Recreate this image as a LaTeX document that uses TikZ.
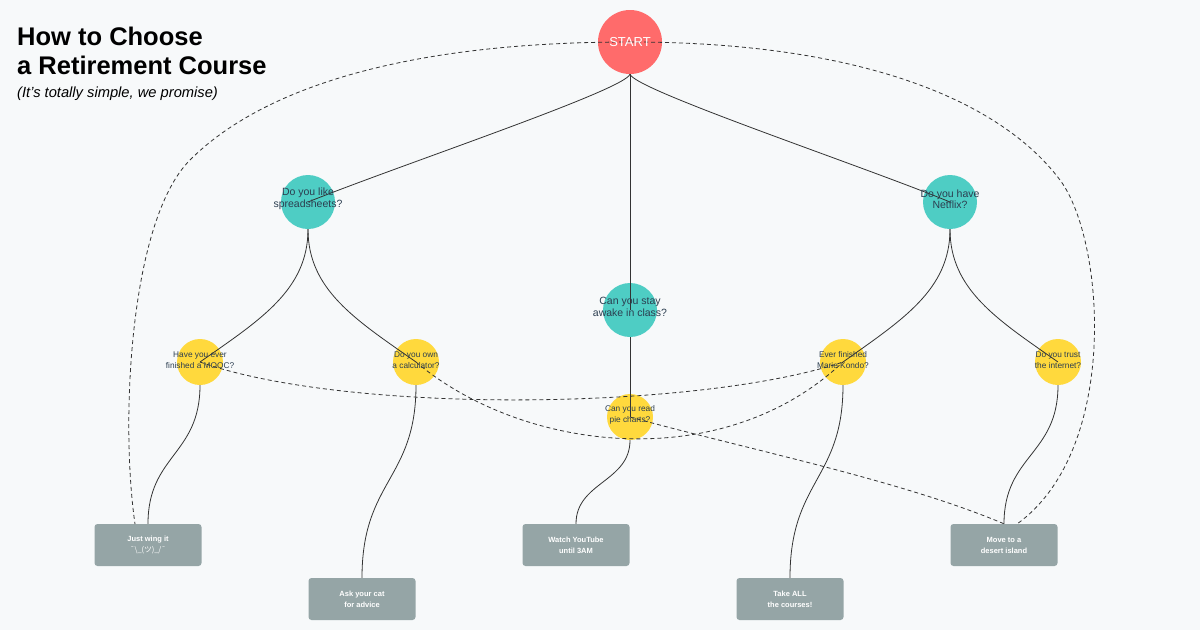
\documentclass[tikz,border=0pt]{standalone}
\usepackage{fontspec}
\setmainfont{Liberation Sans}
\newfontfamily\cjk{Noto Sans CJK JP}
\definecolor{bg}{HTML}{F7F9FA}
\definecolor{startc}{HTML}{FF6B6B}
\definecolor{tealc}{HTML}{4ECDC4}
\definecolor{yellc}{HTML}{FFD93D}
\definecolor{boxc}{HTML}{95A5A6}
\definecolor{txt}{HTML}{2C3E50}
\begin{document}
\begin{tikzpicture}[x=1pt,y=-1pt,
  startnode/.style={circle,fill=startc,minimum size=64pt,inner sep=0pt},
  bignode/.style={circle,fill=tealc,minimum size=54pt,inner sep=0pt},
  smallnode/.style={circle,fill=yellc,minimum size=46pt,inner sep=0pt},
  endbox/.style={rounded corners=3pt,fill=boxc,minimum width=107pt,minimum height=42pt,inner sep=0pt},
  bigtxt/.style={align=center,text=txt,font=\fontsize{10.5}{11.5}\selectfont,inner sep=0pt},
  smalltxt/.style={align=center,text=txt,font=\fontsize{8.3}{10.5}\selectfont,inner sep=0pt},
  boxtxt/.style={align=center,text=white,font=\fontsize{7.5}{11}\bfseries\selectfont,inner sep=0pt},
  link/.style={draw=black!80,line width=0.8pt},
  dlink/.style={draw=black!80,line width=0.8pt,dash pattern=on 4pt off 3pt}]
\fill[bg] (0,0) rectangle (1200,630);
\useasboundingbox (0,0) rectangle (1200,630);
% title
\node[anchor=base west,font=\fontsize{25.5}{28}\bfseries\selectfont,inner sep=0pt] (t1) at (17,45) {How to Choose};
\node[anchor=base west,font=\fontsize{25.5}{28}\bfseries\selectfont,inner sep=0pt] (t2) at (17,74) {a Retirement Course};
\node[anchor=base west,font=\fontsize{14.7}{16}\itshape\selectfont,inner sep=0pt] (t3) at (17,97) {(It's totally simple, we promise)};
% shapes
\node[startnode] (start) at (630,42) {};
\node[bignode] (sheet) at (308,202) {};
\node[bignode] (netf) at (950,202) {};
\node[bignode] (awake) at (630,310) {};
\node[smallnode] (mooc) at (200,362) {};
\node[smallnode] (calc) at (416,362) {};
\node[smallnode] (kondo) at (843,362) {};
\node[smallnode] (trust) at (1058,362) {};
\node[smallnode] (pie) at (630,417) {};
\node[endbox] (wing) at (148,545) {};
\node[endbox] (cat) at (362,599) {};
\node[endbox] (yt) at (576,545) {};
\node[endbox] (all) at (790,599) {};
\node[endbox] (isl) at (1004,545) {};
% solid links
\draw[link] (start.south) .. controls (625,90) and (400,165) .. (sheet.center);
\draw[link] (start.south) .. controls (635,90) and (860,165) .. (netf.center);
\draw[link] (start.south) -- (awake.center);
\draw[link] (awake.south) -- (pie.center);
\draw[link] (sheet.south) .. controls (308,290) and (260,320) .. (mooc.center);
\draw[link] (sheet.south) .. controls (308,290) and (356,320) .. (calc.center);
\draw[link] (netf.south) .. controls (950,290) and (902,320) .. (kondo.center);
\draw[link] (netf.south) .. controls (950,290) and (998,320) .. (trust.center);
\draw[link] (mooc.south) .. controls (200,455) and (148,455) .. (wing.north);
\draw[link] (calc.south) .. controls (416,480) and (362,480) .. (cat.north);
\draw[link] (pie.south) .. controls (630,482) and (576,482) .. (yt.north);
\draw[link] (kondo.south) .. controls (843,480) and (790,480) .. (all.north);
\draw[link] (trust.south) .. controls (1058,455) and (1004,455) .. (isl.north);
% dashed links
\coordinate (wingtop) at (135,524);
\coordinate (isltop) at (1017,524);
\draw[dlink] (start.center) .. controls (400,42) and (260,90) .. (190,160)
  .. controls (130,220) and (120,420) .. (wingtop);
\draw[dlink] (start.center) .. controls (860,42) and (1000,100) .. (1060,180)
  .. controls (1105,240) and (1120,450) .. (isltop);
\draw[dlink] (mooc.center) .. controls (350,415) and (700,410) .. (kondo.center);
\draw[dlink] (calc.center) .. controls (520,450) and (720,478) .. (kondo.center);
\draw[dlink] (pie.center) .. controls (750,450) and (900,480) .. (isl.north);
% texts
\node[font=\fontsize{13}{14}\selectfont,text=white,inner sep=0pt] (startt) at (630,42) {START};
\node[bigtxt] (sheett) at (308,199) {Do you like\\spreadsheets?};
\node[bigtxt] (netft) at (950,199) {Do you have\\Netflix?};
\node[bigtxt] (awaket) at (630,307) {Can you stay\\awake in class?};
\node[smalltxt] (mooct) at (200,360) {Have you ever\\finished a MOOC?};
\node[smalltxt] (calct) at (416,360) {Do you own\\a calculator?};
\node[smalltxt] (kondot) at (843,360) {Ever finished\\Marie Kondo?};
\node[smalltxt] (trustt) at (1058,360) {Do you trust\\the internet?};
\node[smalltxt] (piet) at (630,415) {Can you read\\pie charts?};
\node[boxtxt] (wingt) at (148,545) {Just wing it\\{\cjk\mdseries ¯\textbackslash\_(ツ)\_/¯}};
\node[boxtxt] (catt) at (362,599) {Ask your cat\\for advice};
\node[boxtxt] (ytt) at (576,545) {Watch YouTube\\until 3AM};
\node[boxtxt] (allt) at (790,599) {Take ALL\\the courses!};
\node[boxtxt] (islt) at (1004,545) {Move to a\\desert island};
\end{tikzpicture}
\end{document}
